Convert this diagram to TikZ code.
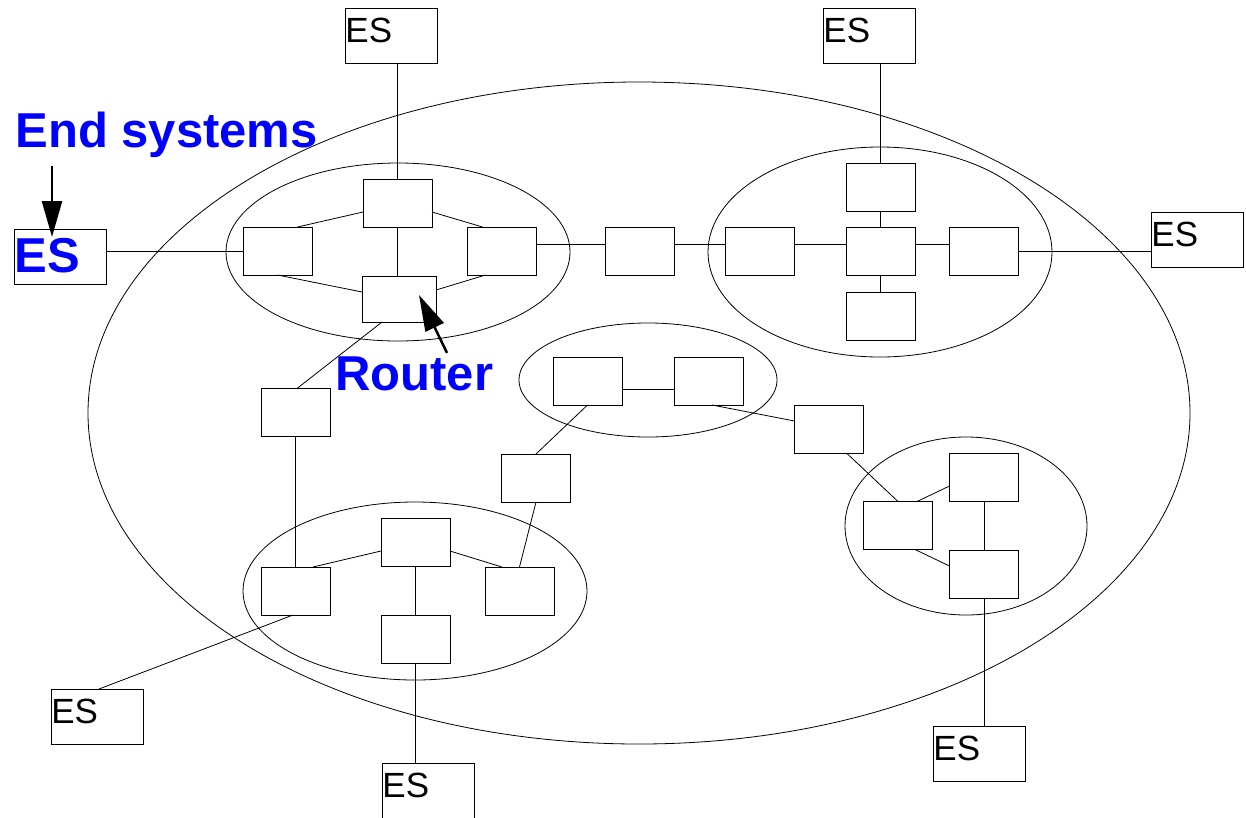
\documentclass[tikz,border=0pt]{standalone}
\usepackage{fontspec}
\setmainfont{Liberation Sans}
\usetikzlibrary{arrows.meta,calc}
\definecolor{labelblue}{RGB}{0,0,255}

\begin{document}
\begin{tikzpicture}[x=1pt,y=-1pt,
  line width=0.8pt,
  router/.style={draw, fill=white, minimum width=69pt, minimum height=48pt, inner sep=0pt, outer sep=0pt},
  endsys/.style={draw, fill=white, minimum width=92pt, minimum height=55pt, inner sep=0pt, outer sep=0pt},
  estext/.style={font=\fontsize{35}{35}\selectfont, anchor=base west, inner sep=0pt, xshift=0pt, yshift=-34pt},
  bluetext/.style={text=labelblue, font=\bfseries\fontsize{49}{49}\selectfont, inner sep=0pt, anchor=base west},
  cluster/.style={draw},
  link/.style={draw},
  pointer/.style={draw, line width=2.5pt, -{Triangle[length=36pt,width=20pt]}}
]
\useasboundingbox (0,0) rectangle (1246,817);

% the network as a whole and its sub-networks
\path[cluster] (639,413) ellipse [x radius=551pt, y radius=331pt];
\path[cluster] (398,252) ellipse [x radius=172pt, y radius=89pt];
\path[cluster] (880,252) ellipse [x radius=172pt, y radius=105pt];
\path[cluster] (648,380) ellipse [x radius=129pt, y radius=57pt];
\path[cluster] (966,526) ellipse [x radius=121pt, y radius=89pt];
\path[cluster] (415,591) ellipse [x radius=172pt, y radius=89pt];

% routers: upper left sub-network
\node[router] (A1) at (397.5,203) {};
\node[router] (A2) at (277.5,251) {};
\node[router] (A3) at (501.5,251) {};
\node[router, minimum width=74pt, minimum height=46pt] (A4) at (399,299) {};
% router between the two upper sub-networks
\node[router] (M) at (639.5,251) {};
% routers: upper right sub-network
\node[router] (B1) at (760,251) {};
\node[router] (B2) at (880.5,251) {};
\node[router] (B3) at (880.5,187) {};
\node[router] (B4) at (880.5,316) {};
\node[router] (B5) at (984,251) {};
% routers: central sub-network
\node[router] (C1) at (587.5,381) {};
\node[router] (C2) at (708.5,381) {};
% stand-alone routers
\node[router] (D) at (536,478) {};
\node[router] (E) at (829,429.5) {};
\node[router] (H) at (295.5,412.5) {};
% routers: lower right sub-network
\node[router] (F1) at (898,525.5) {};
\node[router] (F2) at (984,477.5) {};
\node[router] (F3) at (984,574.5) {};
% routers: lower left sub-network
\node[router] (G1) at (415.5,542.5) {};
\node[router] (G2) at (295.5,591) {};
\node[router] (G3) at (519.5,591) {};
\node[router] (G4) at (415.5,639) {};

% end systems
\node[endsys, label={[estext]north west:ES}] (ES1) at (391,35.5) {};
\node[endsys, label={[estext]north west:ES}] (ES2) at (869,35.5) {};
\node[endsys, label={[bluetext, yshift=-43pt]north west:ES}] (ES3) at (60,256.5) {};
\node[endsys, label={[estext]north west:ES}] (ES4) at (1197,239.5) {};
\node[endsys, label={[estext]north west:ES}] (ES5) at (97,716.5) {};
\node[endsys, label={[estext]north west:ES}] (ES6) at (428,790.5) {};
\node[endsys, label={[estext]north west:ES}] (ES7) at (979,753.5) {};

% links
\path[link] (A1.north) -- (A1.north |- ES1.south);
\path[link] (A2.west) -- (A2.west -| ES3.east);
\path[link] ([xshift=20pt]A2.north) -- ([yshift=-9pt]A1.west);
\path[link] (A2.south) -- ([yshift=7pt]A4.west);
\path[link] ([yshift=-9pt]A1.east) -- ([xshift=-19pt]A3.north);
\path[link] ([xshift=-16pt]A3.south) -- ([yshift=9pt]A4.east);
\path[link] (A1.south) -- (A1.south |- A4.north);
\path[link] ([yshift=7pt]A3.east) -- ([yshift=7pt]M.west);
\path[link] ([yshift=7pt]M.east) -- ([yshift=7pt]B1.west);
\path[link] ([yshift=7pt]B1.east) -- ([yshift=7pt]B2.west);
\path[link] ([yshift=7pt]B2.east) -- ([yshift=7pt]B5.west);
\path[link] (B5.east) -- (B5.east -| ES4.west);
\path[link] (B3.north) -- (B3.north |- ES2.south);
\path[link] (B3.south) -- (B2.north);
\path[link] (B2.south) -- (B4.north);
\path[link] ([xshift=-17pt]A4.south) -- ([xshift=1.5pt]H.north);
\path[link] (H.south) -- (H.south |- G2.north);
\path[link] ([yshift=-8pt]C1.east) -- ([yshift=-8pt]C2.west);
\path[link] (C1.south) -- (D.north);
\path[link] ([xshift=3.5pt]C2.south) -- ([yshift=8.5pt]E.west);
\path[link] ([xshift=18pt]E.south) -- (F1.north);
\path[link] ([xshift=19pt]F1.north) -- ([yshift=-8.5pt]F2.west);
\path[link] ([xshift=17pt]F1.south) -- ([yshift=8.5pt]F3.west);
\path[link] (F2.south) -- (F3.north);
\path[link] (F3.south) -- (F3.south |- ES7.north);
\path[link] (D.south) -- (G3.north);
\path[link] ([xshift=17.5pt]G2.north) -- ([yshift=-8.5pt]G1.west);
\path[link] ([yshift=-8.5pt]G1.east) -- ([xshift=-17.5pt]G3.north);
\path[link] (G1.south) -- (G4.north);
\path[link] (G4.south) -- (G4.south |- ES6.north);
\path[link] ([xshift=-2.5pt]G2.south) -- ([xshift=2pt]ES5.north);

% labels and pointers
\node[bluetext] (endlbl) at (15,147) {End systems};
\node[bluetext] (routerlbl) at (335,390) {Router};
\path[pointer] ([xshift=37pt,yshift=-8pt]endlbl.south west) -- ([xshift=38pt,yshift=-8pt]ES3.north west);
\path[pointer] ([xshift=112pt,yshift=3pt]routerlbl.north west) -- ([xshift=20pt,yshift=4pt]A4.center);
\end{tikzpicture}
\end{document}
